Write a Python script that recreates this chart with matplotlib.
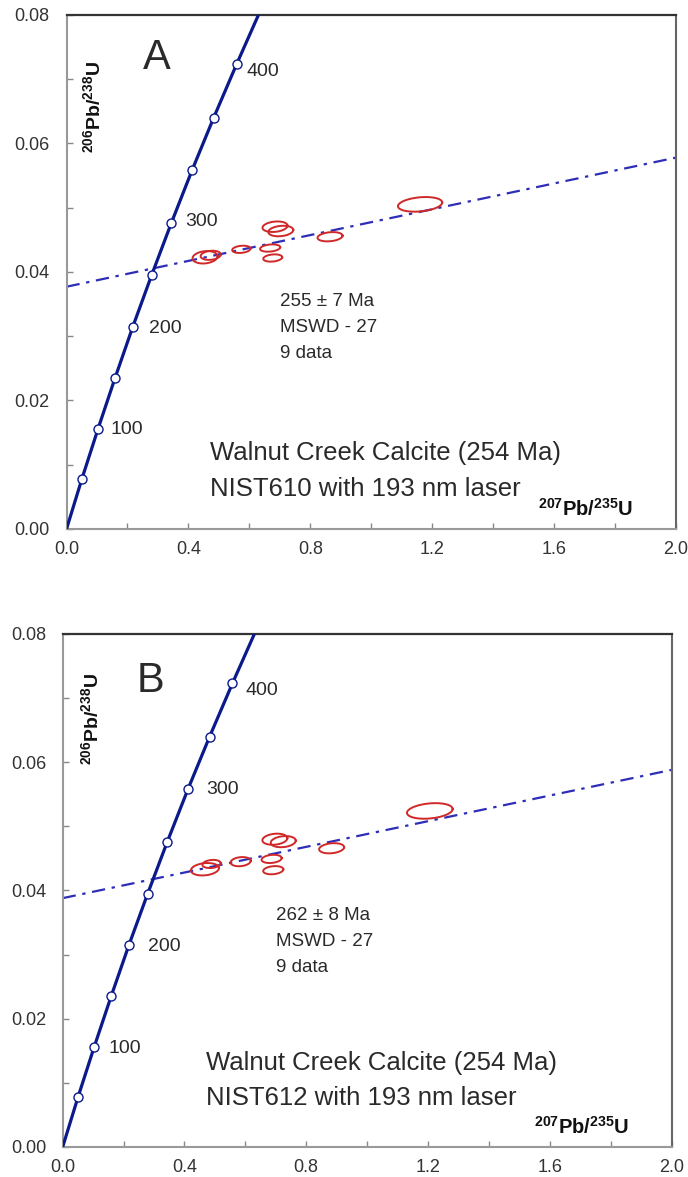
import numpy as np
import matplotlib
matplotlib.use("Agg")
import matplotlib.pyplot as plt
from matplotlib.ticker import MultipleLocator

plt.rcParams['font.family'] = ['Liberation Sans', 'DejaVu Sans']
plt.rcParams['mathtext.fontset'] = 'custom'
plt.rcParams['mathtext.rm'] = 'Liberation Sans'
plt.rcParams['mathtext.bf'] = 'Liberation Sans:bold'

# concordia points (207Pb/235U, 206Pb/238U), 50 Ma steps
conc_x = [0.0, 0.0505, 0.1035, 0.1592, 0.2177, 0.2792, 0.3437, 0.4116, 0.4828, 0.5577, 0.6362]
conc_y = [0.0, 0.0078, 0.0156, 0.0235, 0.0315, 0.0395, 0.0476, 0.0558, 0.0640, 0.0723, 0.0807]
marker_idx = [1, 2, 3, 4, 5, 6, 7, 8, 9]

# age labels: (text, x, y)
labels_a = [("400", 0.59, 0.0712), ("300", 0.39, 0.0478), ("200", 0.27, 0.0312), ("100", 0.145, 0.0154)]
labels_b = [("400", 0.60, 0.0712), ("300", 0.47, 0.0558), ("200", 0.28, 0.0312), ("100", 0.15, 0.0154)]

# discordia ends
disc_a = ([0.0, 2.0], [0.0377, 0.0578])
disc_b = ([0.0, 2.0], [0.0388, 0.0588])

# ellipses: centre x, centre y, full width (x), full height (y)
ell_a_x = [0.4545, 0.4730, 0.5735, 0.6840, 0.7030, 0.6680, 0.6766, 0.8646, 1.1600]
ell_a_y = [0.04228, 0.04259, 0.04352, 0.04704, 0.04637, 0.04372, 0.04217, 0.04548, 0.05052]
ell_a_w = [0.082, 0.066, 0.060, 0.082, 0.082, 0.066, 0.062, 0.082, 0.145]
ell_a_h = [0.00190, 0.00140, 0.00110, 0.00160, 0.00160, 0.00110, 0.00110, 0.00140, 0.00220]

ell_b_x = [0.4673, 0.4890, 0.5846, 0.6970, 0.7245, 0.6864, 0.6917, 0.8834, 1.2060]
ell_b_y = [0.04331, 0.04413, 0.04449, 0.04799, 0.04761, 0.04492, 0.04316, 0.04658, 0.05240]
ell_b_w = [0.092, 0.060, 0.066, 0.082, 0.082, 0.066, 0.066, 0.082, 0.150]
ell_b_h = [0.00190, 0.00125, 0.00140, 0.00170, 0.00170, 0.00125, 0.00125, 0.00155, 0.00235]

panels = [
    dict(rect=[0.0967, 0.5506, 0.886, 0.4367], letter="A", letter_xy=(0.297, 0.0733),
         ylab_xy=(0.087, 0.0657), stats_y=0.0314, desc_y=0.0090,
         labels=labels_a, disc=disc_a,
         ex=ell_a_x, ey=ell_a_y, ew=ell_a_w, eh=ell_a_h,
         stats="255 ± 7 Ma\nMSWD - 27\n9 data",
         desc="Walnut Creek Calcite (254 Ma)\nNIST610 with 193 nm laser"),
    dict(rect=[0.0911, 0.0255, 0.885, 0.4359], letter="B", letter_xy=(0.287, 0.0726),
         ylab_xy=(0.093, 0.0668), stats_y=0.0320, desc_y=0.0104,
         labels=labels_b, disc=disc_b,
         ex=ell_b_x, ey=ell_b_y, ew=ell_b_w, eh=ell_b_h,
         stats="262 ± 8 Ma\nMSWD - 27\n9 data",
         desc="Walnut Creek Calcite (254 Ma)\nNIST612 with 193 nm laser"),
]

fig = plt.figure(figsize=(6.88, 11.77), dpi=100)
t = np.linspace(0, 2 * np.pi, 120)
txt = '#2a2a2a'

for p in panels:
    ax = fig.add_axes(p['rect'])
    ax.set_xlim(0, 2.0)
    ax.set_ylim(0, 0.08)

    # discordia
    ax.plot(p['disc'][0], p['disc'][1], color='#2d2db8', lw=1.6,
            dashes=(6, 3, 1.5, 3), zorder=2)

    # error ellipses (slight tilt along the discordia)
    for cx, cy, w, h in zip(p['ex'], p['ey'], p['ew'], p['eh']):
        xs = cx + w / 2 * np.cos(t)
        ys = cy + h / 2 * np.sin(t) + 0.004 * (xs - cx)
        ax.plot(xs, ys, color='#d02828', lw=1.4, zorder=3)

    # concordia
    ax.plot(conc_x, conc_y, color='#0b1a8a', lw=2.3, zorder=4)
    ax.plot([conc_x[i] for i in marker_idx], [conc_y[i] for i in marker_idx], 'o',
            ms=6.5, mfc='white', mec='#0b1a8a', mew=1.0, zorder=5)
    for s, lx, ly in p['labels']:
        ax.text(lx, ly, s, fontsize=14, color=txt, ha='left', va='center')

    ax.text(p['letter_xy'][0], p['letter_xy'][1], p['letter'], fontsize=30, color=txt,
            ha='center', va='center')
    ax.text(0.70, p['stats_y'], p['stats'], fontsize=13.5, color=txt, ha='left',
            va='center', linespacing=1.7)
    ax.text(0.47, p['desc_y'], p['desc'], fontsize=18.5, color=txt, ha='left',
            va='center', linespacing=1.6)
    ax.text(1.86, 0.0021, r'$\mathbf{^{207}Pb/^{235}U}$', fontsize=14.5, color='#111',
            ha='right', va='baseline')
    ax.text(p['ylab_xy'][0], p['ylab_xy'][1], r'$\mathbf{^{206}Pb/^{238}U}$', fontsize=14,
            color='#111', ha='center', va='center', rotation=90)

    ax.xaxis.set_major_locator(MultipleLocator(0.4))
    ax.xaxis.set_minor_locator(MultipleLocator(0.2))
    ax.yaxis.set_major_locator(MultipleLocator(0.02))
    ax.yaxis.set_minor_locator(MultipleLocator(0.01))
    ax.xaxis.set_major_formatter(plt.FuncFormatter(lambda v, _: f"{v:.1f}"))
    ax.yaxis.set_major_formatter(plt.FuncFormatter(lambda v, _: f"{v:.2f}"))
    ax.tick_params(which='both', direction='in', length=4, width=1, color='#888',
                   labelsize=13, labelcolor='#333', top=False, right=False)
    ax.tick_params(axis='x', pad=9)
    ax.tick_params(axis='y', pad=12)

    for side in ['left', 'bottom']:
        ax.spines[side].set_color('#999')
        ax.spines[side].set_linewidth(1.5)
    ax.spines['top'].set_color('#333')
    ax.spines['top'].set_linewidth(1.6)
    ax.spines['right'].set_color('#666')
    ax.spines['right'].set_linewidth(1.5)

fig.savefig('out.png', dpi=100)
